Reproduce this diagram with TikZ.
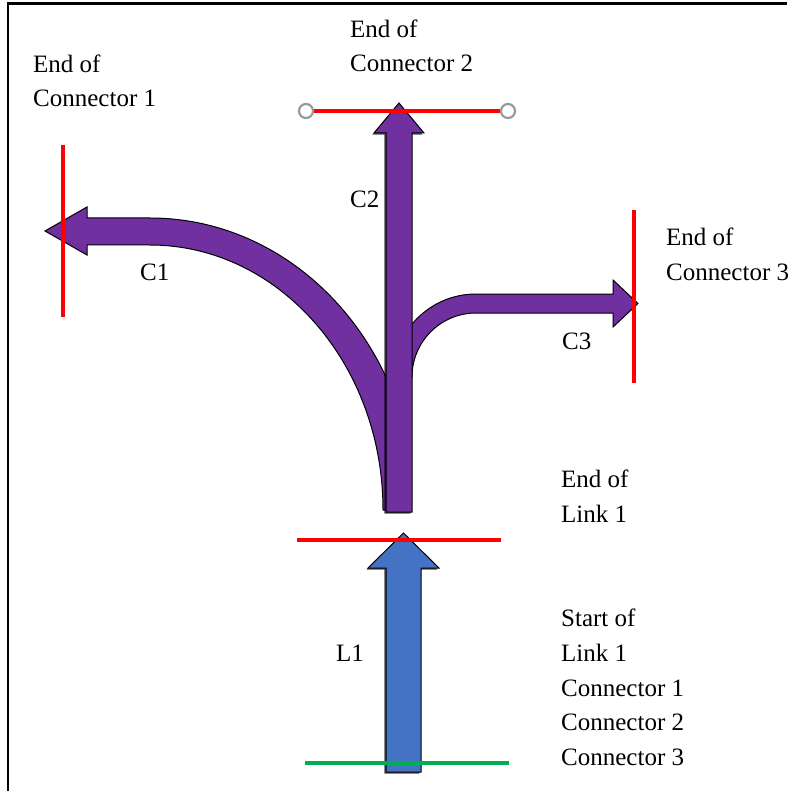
\documentclass[tikz,border=0pt]{standalone}
\usepackage{fontspec}
\setmainfont{Liberation Serif}
\usetikzlibrary{shadows}
\definecolor{cpurple}{HTML}{7030A0}
\definecolor{cblue}{HTML}{4472C4}
\definecolor{cgreen}{HTML}{00B050}
\definecolor{cred}{HTML}{FF0000}
\begin{document}
\begin{tikzpicture}[x=1pt,y=1pt,
  arrowshape/.style={draw=black, line width=1pt, line join=miter},
  purplearrow/.style={arrowshape, fill=cpurple},
  bluearrow/.style={arrowshape, fill=cblue},
  shaftshadow/.style={drop shadow={shadow xshift=-1.6pt, shadow yshift=-1.6pt, opacity=0.7, fill=black}},
  markline/.style={cred, line width=3.6pt},
  startline/.style={cgreen, line width=3.6pt},
  lbl/.style={anchor=base west, inner sep=0pt, font=\fontsize{25}{34}\selectfont},
  endpt/.style={circle, draw=black!40, fill=white, line width=2.2pt, minimum size=14pt, inner sep=0pt}]
\useasboundingbox (0,0) rectangle (787,-791);
% frame
\draw[line width=2.4pt] (8,-791) -- (8,-3.5) -- (787,-3.5);

% C1 curved arrow (behind C2 shaft)
\begin{scope}
  \clip (0,0) rectangle (399,-791);
  \filldraw[purplearrow] (87,-218) -- (150,-218)
    arc[start angle=90,end angle=0,x radius=265,y radius=292] -- (383,-510)
    arc[start angle=0,end angle=90,x radius=233,y radius=265] -- (87,-245)
    -- (87,-255) -- (45,-231) -- (87,-207) -- cycle;
\end{scope}

% C3 curved arrow
\filldraw[purplearrow] (613,-294) -- (476,-294)
  arc[start angle=90,end angle=180,radius=83] -- (412,-377)
  arc[start angle=180,end angle=90,radius=64] -- (613,-313)
  -- (613,-327) -- (638,-303.5) -- (613,-280) -- cycle;

% C2 straight arrow
\filldraw[purplearrow, shaftshadow] (386,-512) -- (386,-133) -- (374,-133) -- (399,-103)
  -- (424,-133) -- (412,-133) -- (412,-512) -- cycle;

% L1 arrow
\filldraw[bluearrow, shaftshadow] (386,-772) -- (386,-568) -- (368,-568) -- (403.5,-533)
  -- (439,-568) -- (421,-568) -- (421,-772) -- cycle;

% end / start lines
\coordinate (c2a) at (306,-111);
\coordinate (c2b) at (508,-111);
\draw[markline] (c2a) -- (c2b);
\node[endpt] (c2ca) at (c2a) {};
\node[endpt] (c2cb) at (c2b) {};
\coordinate (c1a) at (63,-145);
\coordinate (c1b) at (63,-317);
\draw[markline] (c1a) -- (c1b);
\coordinate (c3a) at (634,-210);
\coordinate (c3b) at (634,-383);
\draw[markline] (c3a) -- (c3b);
\coordinate (l1a) at (297,-540);
\coordinate (l1b) at (501,-540);
\draw[markline] (l1a) -- (l1b);
\coordinate (s1a) at (305,-763);
\coordinate (s1b) at (509,-763);
\draw[startline] (s1a) -- (s1b);

% labels
\node[lbl] (t1a) at (33,-73) {End of};
\node[lbl] (t1b) at (33,-107) {Connector 1};
\node[lbl] (t2a) at (350,-38) {End of};
\node[lbl] (t2b) at (350,-72) {Connector 2};
\node[lbl] (t3a) at (666,-246) {End of};
\node[lbl] (t3b) at (666,-280) {Connector 3};
\node[lbl] (lc1) at (140,-280) {C1};
\node[lbl] (lc2) at (350,-208) {C2};
\node[lbl] (lc3) at (562,-349) {C3};
\node[lbl] (ll1) at (336,-661) {L1};
\node[lbl] (e1a) at (561,-487) {End of};
\node[lbl] (e1b) at (561,-522) {Link 1};
\node[lbl] (s1) at (561,-626) {Start of};
\node[lbl] (s2) at (561,-661) {Link 1};
\node[lbl] (s3) at (561,-696) {Connector 1};
\node[lbl] (s4) at (561,-730) {Connector 2};
\node[lbl] (s5) at (561,-765) {Connector 3};
\end{tikzpicture}
\end{document}
